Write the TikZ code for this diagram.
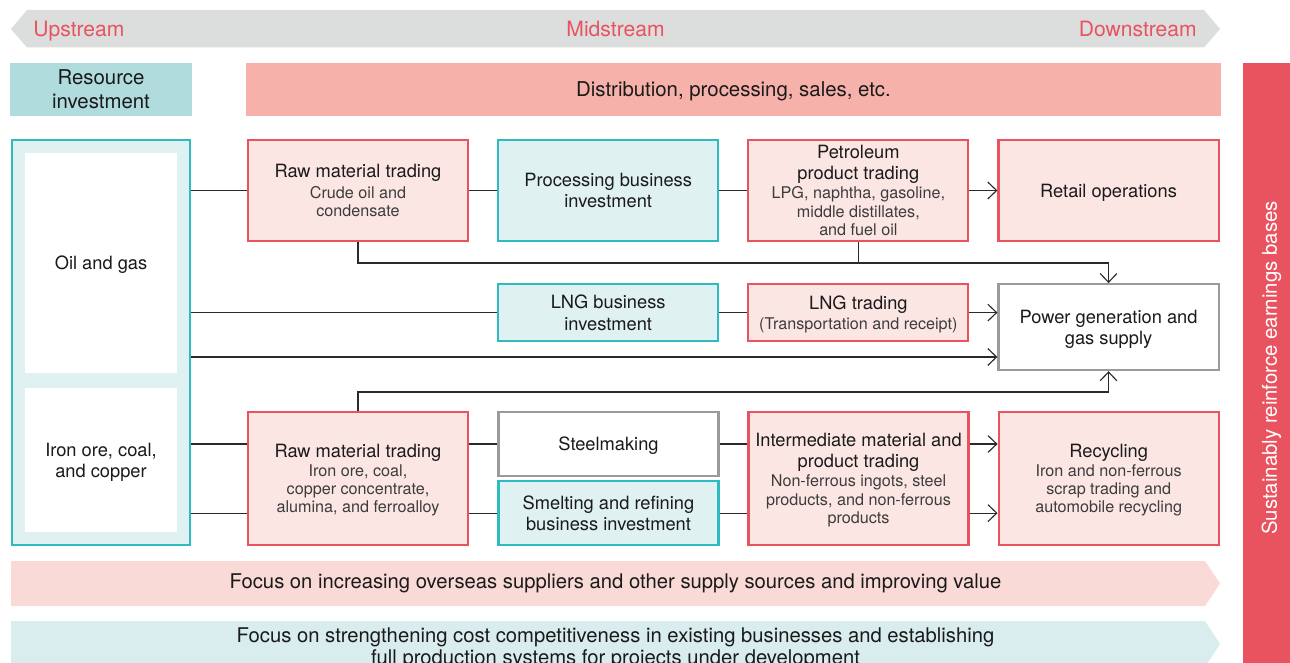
\documentclass[tikz,border=0pt]{standalone}
\usepackage{fontspec}
\setmainfont{TeX Gyre Heros}
\usepackage{tikz}
\usetikzlibrary{arrows.meta,positioning}
\definecolor{brandred}{HTML}{E9535F}
\definecolor{pinkfill}{HTML}{FCE6E4}
\definecolor{tealline}{HTML}{2DBBC1}
\definecolor{tealfill}{HTML}{E0F1F1}
\definecolor{resfill}{HTML}{B1DCDD}
\definecolor{distfill}{HTML}{F5B1AA}
\definecolor{bandgray}{HTML}{DCDDDD}
\definecolor{midgray}{HTML}{9A9A9A}
\definecolor{bandpink}{HTML}{F9DAD6}
\definecolor{bandteal}{HTML}{D9EDEE}
\definecolor{linkgray}{HTML}{2A2A2A}
\definecolor{subgray}{HTML}{3C3C3C}
\definecolor{inkblack}{HTML}{1A1A1A}
\newcommand\mainfs{\fontsize{13pt}{15pt}\selectfont}
\newcommand\subfs{\fontsize{11.5pt}{13pt}\selectfont\color{subgray}}
\newcommand\bigfs{\fontsize{14.5pt}{17pt}\selectfont}
\newcommand\stagefs{\fontsize{15pt}{17pt}\selectfont}
\newcommand\bandfs{\fontsize{14.4pt}{15.5pt}\selectfont}

\begin{document}
\begin{tikzpicture}[
  x=0.025cm,y=-0.025cm,
  node distance=0.7cm,
  box/.style={draw,line width=1.5pt,minimum width=5.5cm,minimum height=2.525cm,align=center,inner sep=1pt,text depth=0pt,font=\mainfs,text=inkblack},
  trade/.style={box,draw=brandred,fill=pinkfill},
  invest/.style={box,draw=tealline,fill=tealfill},
  plain/.style={box,draw=midgray,fill=white},
  holder/.style={fill=white,minimum width=3.8cm,align=center,inner sep=0pt,text depth=0pt,font=\mainfs,text=inkblack},
  banner/.style={minimum height=1.325cm,align=center,inner sep=0pt,text depth=0pt,font=\bigfs,text=inkblack},
  stage/.style={inner sep=0pt,font=\stagefs,text=brandred},
  link/.style={draw=linkgray,line width=0.8pt},
  arr/.style={link,-{Straight Barb[length=2.2mm,width=4.2mm]}}
]
\useasboundingbox (0,0) rectangle (1290,663);

% value chain header
\fill[bandgray] (11,29) -- (27,10) -- (1204,10) -- (1220,29) -- (1204,47.5) -- (27,47.5) -- cycle;
\node[stage,anchor=base west] (up) at (33,36.5) {Upstream};
\node[stage,anchor=base] (mid) at (615.5,36.5) {Midstream};
\node[stage,anchor=base east] (down) at (1197,36.5) {Downstream};

\node[banner,fill=resfill,minimum width=4.55cm] (res) at (101,89.5) {Resource\\investment};
\node[banner,fill=distfill,minimum width=24.375cm] (dist) at (733.5,89.5) {Distribution, processing, sales, etc.};

\node[rotate=90,fill=brandred,text=white,font=\bigfs,minimum width=15.25cm,minimum height=1.425cm,inner sep=0pt] (bar) at (1271.5,368) {Sustainably reinforce earnings bases};

% resources
\node[invest,minimum width=4.45cm,minimum height=10.125cm] (frame) at (101,342.5) {};
\node[holder,minimum height=5.5cm] (oil) at (101,263) {Oil and gas};
\node[holder,minimum height=3.6cm] (iron) at (101,460) {Iron ore, coal,\\and copper};

% oil and gas
\node[trade] (rawoil) at (358,190.5) {Raw material trading\\\subfs Crude oil and\\[-2pt]\subfs condensate};
\node[invest,right=of rawoil] (proc) {Processing business\\investment};
\node[trade,right=of proc] (petro) {Petroleum\\product trading\\[-1.5pt]\subfs LPG, naphtha, gasoline,\\[-2pt]\subfs middle distillates,\\[-2pt]\subfs and fuel oil};
\node[trade,right=of petro] (retail) {Retail operations};
\node[invest,minimum height=1.425cm,below=1.025cm of proc] (lngbiz) {LNG business\\investment};
\node[trade,minimum height=1.425cm,right=of lngbiz] (lngtrade) {LNG trading\\[-1pt]\subfs (Transportation and receipt)};
\node[plain,minimum height=2.15cm,below=1.025cm of retail] (power) {Power generation and\\gas supply};

% metals
\node[trade,minimum height=3.325cm] (rawmet) at (358,478.5) {Raw material trading\\[-1.5pt]\subfs Iron ore, coal,\\[-2pt]\subfs copper concentrate,\\[-2pt]\subfs alumina, and ferroalloy};
\node[plain,minimum height=1.6cm] (steel) at (608.5,444) {Steelmaking};
\node[invest,minimum height=1.6cm,below=0.075cm of steel] (smelt) {Smelting and refining\\business investment};
\node[trade,minimum height=3.325cm] (inter) at (858.5,478.5) {Intermediate material and\\product trading\\[-1.5pt]\subfs Non-ferrous ingots, steel\\[-2pt]\subfs products, and non-ferrous\\[-2pt]\subfs products};
\node[trade,minimum height=3.325cm,right=of inter] (recycle) {Recycling\\[-1.5pt]\subfs Iron and non-ferrous\\[-2pt]\subfs scrap trading and\\[-2pt]\subfs automobile recycling};

% connectors
\coordinate (upper) at (0,263);
\coordinate (direct) at (0,357);
\coordinate (lower) at (0,392);
\draw[link] (frame.east |- rawoil) -- (rawoil);
\draw[link] (rawoil) -- (proc);
\draw[link] (proc) -- (petro);
\draw[arr] (petro) -- (retail);
\draw[arr] (rawoil.south) |- (upper -| power.north) -- (power.north);
\draw[link] (petro.south) -- (petro.south |- upper);
\draw[link] (frame.east |- lngbiz) -- (lngbiz);
\draw[link] (lngbiz) -- (lngtrade);
\draw[arr] (lngtrade) -- (lngtrade -| power.west);
\draw[arr] (frame.east |- direct) -- (direct -| power.west);
\draw[arr] (rawmet.north) |- (lower -| power.south) -- (power.south);
\draw[link] (frame.east |- steel) -- (rawmet.west |- steel);
\draw[link] (frame.east |- smelt) -- (rawmet.west |- smelt);
\draw[link] (rawmet.east |- steel) -- (steel);
\draw[link] (rawmet.east |- smelt) -- (smelt);
\draw[link] (steel) -- (inter.west |- steel);
\draw[link] (smelt) -- (inter.west |- smelt);
\draw[arr] (inter.east |- steel) -- (recycle.west |- steel);
\draw[arr] (inter.east |- smelt) -- (recycle.west |- smelt);

% focus bands
\fill[bandpink] (11,561) -- (1205,561) -- (1220,583.5) -- (1205,606) -- (11,606) -- cycle;
\node[font=\bandfs,text=inkblack] (focus1) at (615.5,583.5) {Focus on increasing overseas suppliers and other supply sources and improving value};
\fill[bandteal] (11,621) -- (1205,621) -- (1220,644) -- (1205,667) -- (11,667) -- cycle;
\node[font=\bandfs,text=inkblack,align=center] (focus2) at (615.5,648) {Focus on strengthening cost competitiveness in existing businesses and establishing\\full production systems for projects under development};
\end{tikzpicture}
\end{document}
